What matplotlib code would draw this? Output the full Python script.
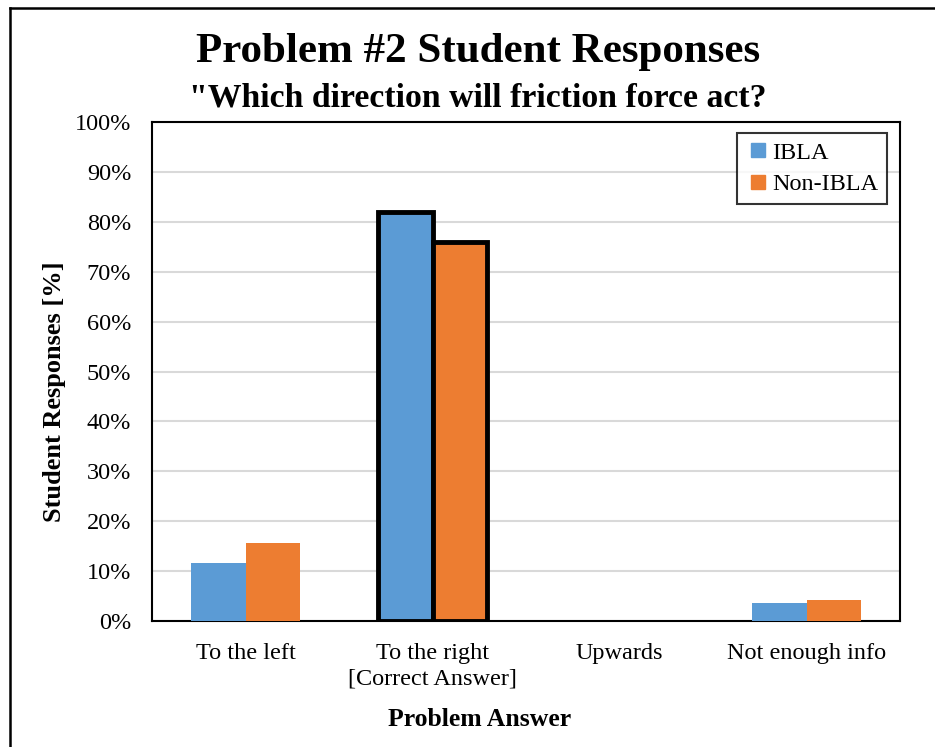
import numpy as np
import matplotlib.pyplot as plt
from matplotlib.lines import Line2D

categories = ["To the left", "To the right\n[Correct Answer]", "Upwards", "Not enough info"]
ibla = [11.6, 82.0, 0.0, 3.6]
non_ibla = [15.6, 76.0, 0.0, 4.2]
highlight = 1  # correct answer gets a heavy outline

blue = "#5B9BD5"
orange = "#ED7D31"

plt.rcParams['font.family'] = ['Liberation Serif', 'DejaVu Serif']

fig = plt.figure(figsize=(9.35, 7.47), dpi=100)
ax = fig.add_axes([152 / 935, 1 - 621 / 747, 748 / 935, 499 / 747])

x = np.arange(len(categories))
w = 0.29
for i in x:
    lw = 3.5 if i == highlight else 0
    ec = "black" if i == highlight else "none"
    ax.bar(i - w / 2, ibla[i], w, color=blue, edgecolor=ec, linewidth=lw, zorder=3)
    ax.bar(i + w / 2, non_ibla[i], w, color=orange, edgecolor=ec, linewidth=lw, zorder=3)

ax.set_xlim(-0.5, len(categories) - 0.5)
ax.set_ylim(0, 100)
ax.set_yticks(np.arange(0, 101, 10))
ax.set_yticklabels([f"{v}%" for v in range(0, 101, 10)], fontsize=17.5)
ax.set_xticks(x)
ax.set_xticklabels(categories, fontsize=17.5, linespacing=1.25)
ax.tick_params(axis='both', length=0)
ax.tick_params(axis='x', pad=16)
ax.tick_params(axis='y', pad=15)
ax.grid(axis='y', color="#d9d9d9", linewidth=1.5, zorder=0)
for s in ax.spines.values():
    s.set_linewidth(1.5)
    s.set_color("black")

# axis titles sit centred on the chart area rather than the plot area
fig.text(55 / 935, 1 - 392 / 747, "Student Responses [%]", rotation=90, ha='center',
         va='center', fontsize=19, fontweight='bold')
fig.text(480 / 935, 1 - 719 / 747, "Problem Answer", ha='center', va='center',
         fontsize=18.5, fontweight='bold')

handles = [Line2D([], [], marker='s', linestyle='none', markersize=10, color=blue),
           Line2D([], [], marker='s', linestyle='none', markersize=10, color=orange)]
leg = ax.legend(handles, ["IBLA", "Non-IBLA"], loc='upper right', fontsize=17.5,
                frameon=True, fancybox=False, edgecolor='black', handletextpad=0.1,
                borderpad=0.35, labelspacing=0.4, borderaxespad=0,
                bbox_to_anchor=(1 - 13 / 748, 1 - 11 / 499), handlelength=1.0)
leg.get_frame().set_linewidth(1.5)

fig.text(478 / 935, 1 - 52 / 747, "Problem #2 Student Responses", ha='center', va='center',
         fontsize=31, fontweight='bold')
fig.text(478 / 935, 1 - 98 / 747, "\"Which direction will friction force act?", ha='center',
         va='center', fontsize=24.3, fontweight='bold')

# outer chart frame (only top and left edges visible)
fig.add_artist(Line2D([10 / 935, 10 / 935], [0, 1 - 8 / 747], color='black', linewidth=1.8,
                      transform=fig.transFigure))
fig.add_artist(Line2D([10 / 935, 1], [1 - 8 / 747, 1 - 8 / 747], color='black', linewidth=1.8,
                      transform=fig.transFigure))

fig.savefig("out.png", dpi=100)
